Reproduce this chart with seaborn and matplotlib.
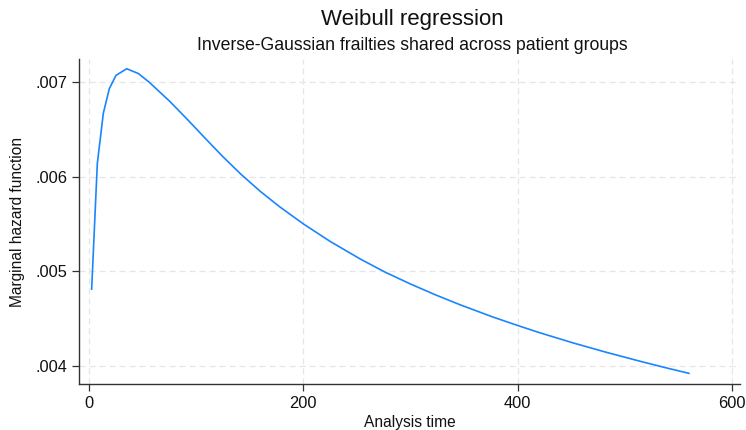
import matplotlib
matplotlib.use("Agg")
import matplotlib.pyplot as plt
import seaborn as sns
import pandas as pd
from matplotlib.ticker import FuncFormatter

# Data
analysis_time = [2.5, 7.8, 13.4, 19, 25.2, 35.2, 46, 56, 75, 92, 108, 125,
                 142, 160, 178, 200, 225, 253, 276, 300, 323, 346, 377, 400,
                 421, 452, 483, 514, 537, 560]
marginal_hazard = [0.00481, 0.00614, 0.00667, 0.00693, 0.00707, 0.00714,
                   0.007090, 0.007000, 0.006800, 0.006603, 0.006411, 0.006211,
                   0.006024, 0.005844, 0.005682, 0.005502, 0.005317, 0.005132,
                   0.004994, 0.004867, 0.004754, 0.004649, 0.004518, 0.004429,
                   0.004351, 0.004244, 0.004145, 0.004052, 0.003986, 0.003923]
x_ticks = [0, 200, 400, 600]
y_ticks = [0.004, 0.005, 0.006, 0.007]

title = "Weibull regression"
subtitle = "Inverse-Gaussian frailties shared across patient groups"
xlabel = "Analysis time"
ylabel = "Marginal hazard function"

df = pd.DataFrame({"t": analysis_time, "h": marginal_hazard})

sns.set_style("white")
plt.rcParams["font.family"] = ["Liberation Sans", "DejaVu Sans"]

fig = plt.figure(figsize=(7.46, 4.30), dpi=100)
ax = fig.add_axes([79/746, 1 - 384/430, (740 - 79)/746, (384 - 59)/430])

sns.lineplot(data=df, x="t", y="h", ax=ax, color="#1a85ff", linewidth=1.2)

ax.set_xlim(-9.3, 607.5)
ax.set_ylim(0.003811, 0.007243)
ax.set_xticks(x_ticks)
ax.set_yticks(y_ticks)
ax.yaxis.set_major_formatter(FuncFormatter(lambda v, p: ("%.3f" % v).lstrip("0")))
ax.xaxis.set_major_formatter(FuncFormatter(lambda v, p: "%d" % v))

ax.grid(True, color="#e6e6e6", linestyle=(0, (5, 3)), linewidth=0.9)
ax.set_axisbelow(True)
for s in ["top", "right"]:
    ax.spines[s].set_visible(False)
for s in ["left", "bottom"]:
    ax.spines[s].set_color("#333333")
    ax.spines[s].set_linewidth(1.0)

ax.tick_params(axis="both", which="major", direction="out", length=5, width=0.9,
               color="#333333", labelsize=11.8, labelcolor="#111111",
               left=True, bottom=True)
ax.set_xlabel(xlabel, fontsize=11.2, color="#111111", labelpad=3)
ax.set_ylabel(ylabel, fontsize=11.2, color="#111111", labelpad=7)

fig.text(412/746, 1 - 19/430, title, ha="center", va="center", fontsize=16, color="#111111")
fig.text(412/746, 1 - 46/430, subtitle, ha="center", va="center", fontsize=12.7, color="#111111")

fig.savefig("out.png", dpi=100)
